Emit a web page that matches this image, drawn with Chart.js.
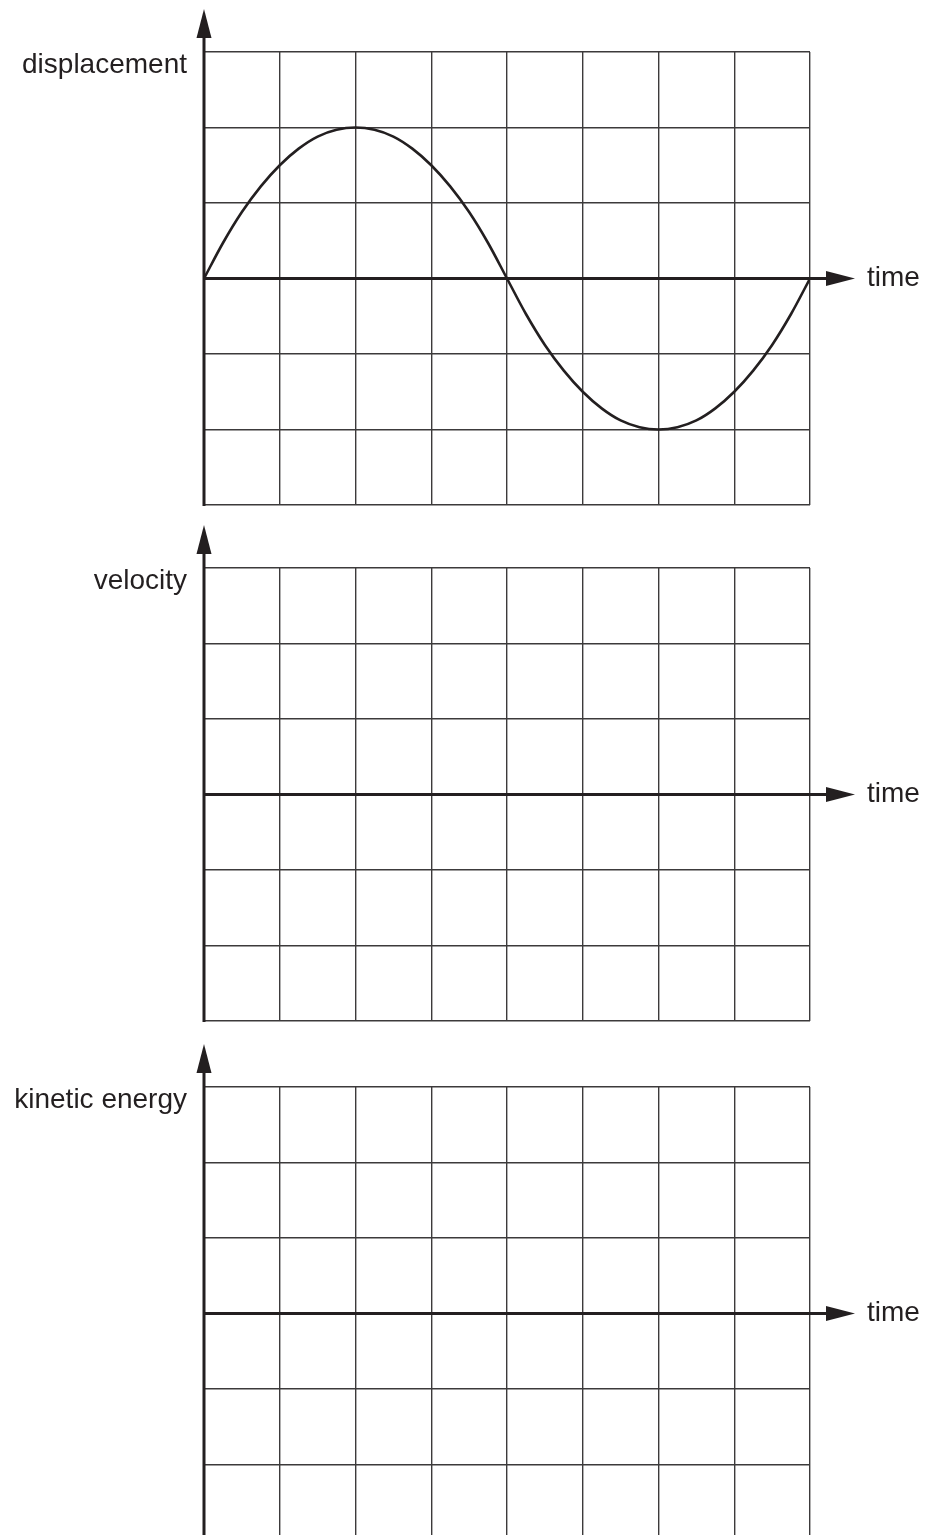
<!DOCTYPE html>
<html>
<head>
<meta charset="utf-8">
<script src="https://cdn.jsdelivr.net/npm/chart.js@4/dist/chart.umd.min.js"></script>
<style>
  html, body { margin: 0; padding: 0; background: #fff; overflow: hidden; }
  body { width: 927px; height: 1535px; position: relative; }
  canvas { position: absolute; left: 0; }
</style>
</head>
<body>
<canvas id="c0" width="927" height="517" style="top:0px"></canvas>
<canvas id="c1" width="927" height="517" style="top:516px"></canvas>
<canvas id="c2" width="927" height="517" style="top:1035px"></canvas>
<script>
// panels, top to bottom
const panelLabels = ['displacement', 'velocity', 'kinetic energy']
const xLabel = 'time'

// time in grid columns, displacement in grid rows
const times = [0, 0.25, 0.5, 0.75, 1, 1.25, 1.5, 1.75, 2, 2.25, 2.5, 2.75, 3, 3.25, 3.5, 3.75, 4,
  4.25, 4.5, 4.75, 5, 5.25, 5.5, 5.75, 6, 6.25, 6.5, 6.75, 7, 7.25, 7.5, 7.75, 8]
const displacement = [0, 0.47, 0.88, 1.22, 1.5, 1.72, 1.88, 1.97, 2, 1.97, 1.88, 1.72, 1.5, 1.22, 0.88, 0.47, 0,
  -0.47, -0.88, -1.22, -1.5, -1.72, -1.88, -1.97, -2, -1.97, -1.88, -1.72, -1.5, -1.22, -0.88, -0.47, 0]

const xMin = 0, xMax = 8
const yMin = -3, yMax = 3

const ink = '#231f20'
const gridInk = '#3c3a3b'
const font = '28px "Liberation Sans", Arial, sans-serif'

const axesPlugin = {
  id: 'axes',
  afterDraw(chart, args, opts) {
    const ctx = chart.ctx
    const a = chart.chartArea
    const y0 = chart.scales.y.getPixelForValue(0)
    const xl = chart.scales.x.getPixelForValue(xMin)
    const xr = chart.scales.x.getPixelForValue(xMax)
    ctx.save()
    ctx.strokeStyle = ink
    ctx.fillStyle = ink
    ctx.lineWidth = 3

    // vertical axis with arrow
    ctx.beginPath()
    ctx.moveTo(xl, a.bottom + 1)
    ctx.lineTo(xl, a.top - 16)
    ctx.stroke()
    ctx.beginPath()
    ctx.moveTo(xl, a.top - 43)
    ctx.lineTo(xl - 7.5, a.top - 14)
    ctx.lineTo(xl + 7.5, a.top - 14)
    ctx.closePath()
    ctx.fill()

    // time axis with arrow
    ctx.beginPath()
    ctx.moveTo(xl, y0)
    ctx.lineTo(xr + 19, y0)
    ctx.stroke()
    ctx.beginPath()
    ctx.moveTo(xr + 45, y0)
    ctx.lineTo(xr + 16, y0 - 7.5)
    ctx.lineTo(xr + 16, y0 + 7.5)
    ctx.closePath()
    ctx.fill()

    ctx.font = font
    ctx.textBaseline = 'alphabetic'
    ctx.textAlign = 'left'
    ctx.fillText(xLabel, xr + 57, y0 + 7)
    ctx.textAlign = 'right'
    ctx.fillText(opts.label, 187, a.top + 21)
    ctx.restore()
  }
}

function makePanel(id, label, values) {
  const datasets = []
  if (values) {
    datasets.push({
      data: times.map((t, i) => ({ x: t, y: values[i] })),
      borderColor: ink,
      borderWidth: 2.6,
      pointRadius: 0,
      tension: 0.4,
      cubicInterpolationMode: 'monotone',
      fill: false
    })
  }
  return new Chart(document.getElementById(id), {
    type: 'line',
    data: { datasets: datasets },
    options: {
      responsive: false,
      animation: false,
      devicePixelRatio: 1,
      layout: { padding: { left: 204, right: 117, top: 52, bottom: 12 } },
      plugins: {
        legend: { display: false },
        tooltip: { enabled: false },
        axes: { label: label }
      },
      scales: {
        x: {
          type: 'linear',
          min: xMin, max: xMax,
          ticks: { display: false, stepSize: 1 },
          grid: { color: gridInk, lineWidth: 1.4, drawTicks: false },
          border: { display: false },
          afterFit(scale) { scale.height = 0 }
        },
        y: {
          type: 'linear',
          min: yMin, max: yMax,
          ticks: { display: false, stepSize: 1 },
          grid: { color: gridInk, lineWidth: 1.4, drawTicks: false },
          border: { display: false },
          afterFit(scale) { scale.width = 0 }
        }
      }
    },
    plugins: [axesPlugin]
  })
}

makePanel('c0', panelLabels[0], displacement)
makePanel('c1', panelLabels[1], null)
makePanel('c2', panelLabels[2], null)
</script>
</body>
</html>
